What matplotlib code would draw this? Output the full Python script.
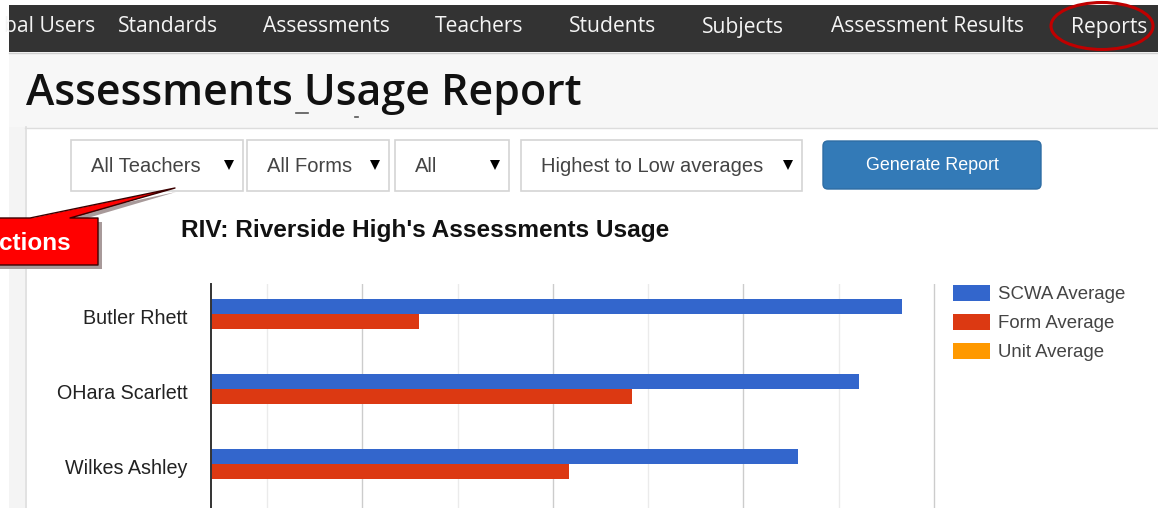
import matplotlib
matplotlib.use("Agg")
import matplotlib.pyplot as plt
from matplotlib.patches import Rectangle, FancyBboxPatch, Polygon, Ellipse
import numpy as np

# ---------------- data ----------------
teachers = ["Butler Rhett", "OHara Scarlett", "Wilkes Ashley"]
scwa_avg = [76.6, 72.1, 65.7]
form_avg = [25.9, 48.3, 41.7]
unit_avg = [0.0, 0.0, 0.0]
series_names = ["SCWA Average", "Form Average", "Unit Average"]
series_colors = ["#3366cc", "#dc3912", "#ff9900"]
minor_grid = [10, 30, 50, 70]
major_grid = [20, 40, 60, 80]

nav_items = ["bal Users", "Standards", "Assessments", "Teachers", "Students",
             "Subjects", "Assessment Results", "Reports"]
dropdowns = ["All Teachers", "All Forms", "All", "Highest to Low averages"]
page_title = "Assessments Usage Report"
chart_title = "RIV: Riverside High's Assessments Usage"
button_label = "Generate Report"
callout_label = "ctions"

# ---------------- figure ----------------
W, H = 1158, 508
fig = plt.figure(figsize=(W / 100, H / 100), dpi=100)
bg = fig.add_axes([0, 0, 1, 1])
bg.set_xlim(0, W)
bg.set_ylim(H, 0)
bg.axis("off")

# page backgrounds
bg.add_patch(Rectangle((0, 0), W, H, facecolor="white", edgecolor="none"))
bg.add_patch(Rectangle((9, 52), W, 76, facecolor="#f7f7f7", edgecolor="none"))
bg.add_patch(Rectangle((9, 127), 16, H, facecolor="#f4f4f4", edgecolor="none"))
bg.plot([9, W], [52.5, 52.5], color="#cfcfcf", lw=1)
bg.plot([25, W], [127.5, 127.5], color="#dddddd", lw=1)
bg.plot([25.5, 25.5], [127, H], color="#dddddd", lw=1.2)

# nav bar
bg.add_patch(Rectangle((9, 5), W, 47, facecolor="#333333", edgecolor="none"))
nav_x = [95, 118, 263, 435, 569, 702, 831, 1071]
for i, (name, x) in enumerate(zip(nav_items, nav_x)):
    bg.text(x, 27, name, ha="right" if i == 0 else "left", va="center",
            fontsize=15.2, family="Open Sans", color="#f4f4f4")
bg.add_patch(Ellipse((1102, 26), 102, 47, facecolor="none", edgecolor="#c00000", lw=2.2))

# page title
bg.text(26, 105, page_title, ha="left", va="baseline", fontsize=30.9,
        family="Open Sans", weight="semibold", color="#111111")
bg.plot([296, 308], [113, 113], color="#555555", lw=1.2)
bg.plot([355, 358], [117, 117], color="#555555", lw=1.2)

# dropdowns
dd_box = [(71, 243), (247, 389), (395, 509), (521, 802)]
for label, (x0, x1) in zip(dropdowns, dd_box):
    bg.add_patch(Rectangle((x0, 140), x1 - x0, 51, facecolor="white",
                           edgecolor="#d4d4d4", lw=1.2))
    bg.text(x0 + 20, 166, label, ha="left", va="center", fontsize=14.5,
            family="Liberation Sans", color="#444444")
    bg.plot([x1 - 14], [164.5], marker="v", markersize=6.5, color="black",
            markeredgewidth=0)

# button
bg.add_patch(FancyBboxPatch((823, 141), 218, 48,
                            boxstyle="round,pad=0,rounding_size=5",
                            facecolor="#337ab7", edgecolor="#2e6da4", lw=1))
bg.text(932, 165, button_label, ha="center", va="center", fontsize=12.9,
        family="Liberation Sans", color="white")

# chart title
bg.text(181, 230, chart_title, ha="left", va="center", fontsize=17.6,
        family="Liberation Sans", weight="bold", color="#111111")

# callout
sh = 4
bg.add_patch(Polygon([(30 + sh, 218 + sh), (70 + sh, 218 + sh), (175 + 1, 188 + 4)],
                     closed=True, facecolor="#a89a9a", edgecolor="none", zorder=6))
bg.add_patch(Rectangle((-5 + sh, 218 + sh), 103, 47, facecolor="#a89a9a",
                       edgecolor="none", zorder=6))
bg.add_patch(Polygon([(30, 218.5), (70, 218.5), (175, 188)], closed=True,
                     facecolor="#ff0000", edgecolor="none", zorder=7))
bg.add_patch(Rectangle((-5, 218), 103, 47, facecolor="#ff0000", edgecolor="none",
                       zorder=7))
bg.plot([-5, 30, 175, 70, 98, 98, -5], [218, 218, 188, 218, 218, 265, 265],
        color="#3a0000", lw=1, zorder=8)
bg.text(71, 243, callout_label, ha="right", va="center", fontsize=17.5,
        family="Liberation Sans", weight="bold", color="white", zorder=9)

# ---------------- chart ----------------
x_left_px, x_right_px, top_px = 211, 936, 284
ax = fig.add_axes([x_left_px / W, 0, (x_right_px - x_left_px) / W, (H - top_px) / H])
ax.set_facecolor("none")
xmin = 10 - (267 - 211) / 9.53
ax.set_xlim(xmin, 80.2)
ax.set_ylim(2.58, -0.396)

y = np.arange(len(teachers))
bar_h = 0.2
b1 = ax.barh(y - 0.1, scwa_avg, height=bar_h, color=series_colors[0],
             label=series_names[0], zorder=3)
b2 = ax.barh(y + 0.1, form_avg, height=bar_h, color=series_colors[1],
             label=series_names[1], zorder=3)
b3 = ax.barh(y + 0.3, unit_avg, height=bar_h, color=series_colors[2],
             label=series_names[2], zorder=3)

for g in minor_grid:
    ax.axvline(g, color="#ebebeb", lw=1, zorder=1)
for g in major_grid:
    ax.axvline(g, color="#cccccc", lw=1, zorder=1)

for s in ["top", "right", "bottom"]:
    ax.spines[s].set_visible(False)
ax.spines["left"].set_color("#333333")
ax.spines["left"].set_linewidth(1.4)
ax.spines["left"].set_zorder(4)
ax.set_xticks([])
ax.set_yticks(y + 0.03)
ax.set_yticklabels(teachers, family="Liberation Sans", fontsize=14.2, color="#222222")
ax.tick_params(axis="y", length=0, pad=17)

leg = ax.legend(handles=[b1, b2, b3], labels=series_names, loc="upper left",
                bbox_to_anchor=(953 / W, 1 - 284.5 / H), bbox_transform=fig.transFigure,
                frameon=False, borderpad=0, borderaxespad=0,
                prop={"family": "Liberation Sans", "size": 13.4},
                handlelength=1.97, handleheight=1.0, handletextpad=0.43,
                labelspacing=0.56)
for t in leg.get_texts():
    t.set_color("#444444")

fig.savefig("out.png", dpi=100)
